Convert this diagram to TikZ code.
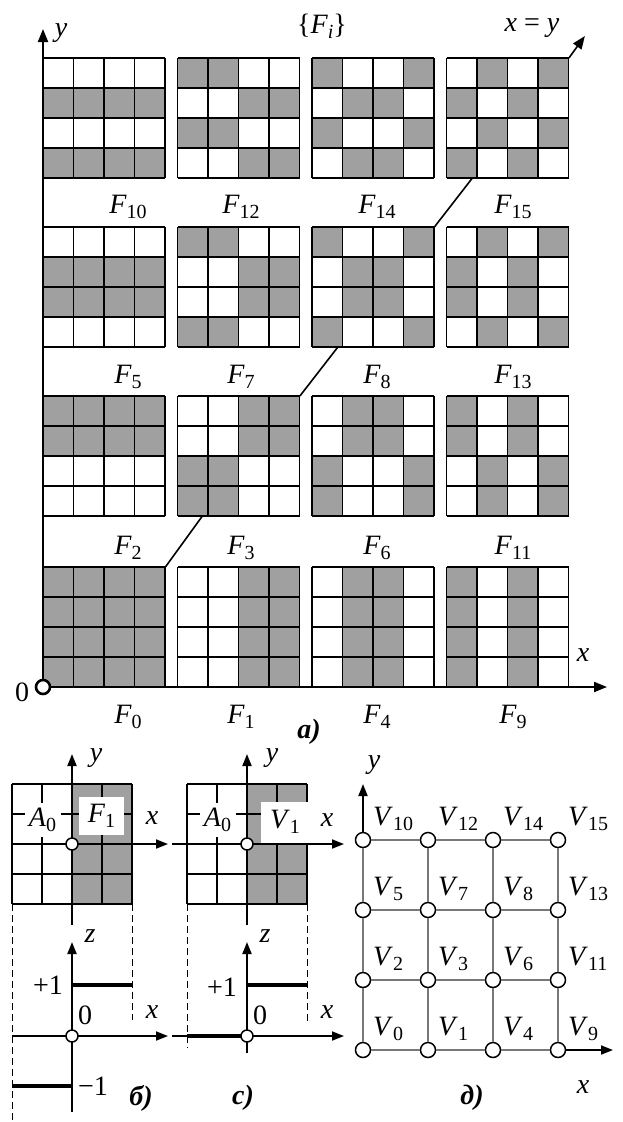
\documentclass[tikz,border=0pt]{standalone}
\usepackage{fontspec}
\setmainfont{Liberation Serif}
\usetikzlibrary{arrows.meta,calc}
\definecolor{cg}{RGB}{160,160,160}
\definecolor{lg}{RGB}{120,120,120}
\newcommand\Sb[2]{\textit{#1}\raisebox{-5.5pt}{\fontsize{20}{20}\selectfont #2}}
\newcommand\Pat[4]{%
  \node[inner sep=0pt, minimum width=122pt, minimum height=120pt, anchor=north west] (#1) at (#2,#3) {};
  \foreach \b [count=\k from 0] in {#4} {
    \pgfmathtruncatemacro\cc{mod(\k,4)}
    \pgfmathtruncatemacro\rr{div(\k,4)}
    \ifnum\b=1 \fill[cg] ($(#1.north west)+(\cc*30.5,\rr*30)$) rectangle ++(30.5,30);\fi
  }
  \foreach \i in {0,...,4} {
    \draw[gl] ($(#1.north west)+(\i*30.5,0)$) -- ++(0,120);
    \draw[gl] ($(#1.north west)+(0,\i*30)$) -- ++(122,0);
  }
}
\tikzset{
  lbl/.style={font=\fontsize{28}{32}\selectfont, inner sep=0pt},
  ttl/.style={font=\fontsize{28}{32}\selectfont\bfseries\itshape, inner sep=0pt},
  ax/.style={line width=2pt, -{Triangle[length=13pt,width=10pt]}},
  axs/.style={line width=1.8pt, -{Triangle[length=12pt,width=9pt]}},
  gl/.style={line width=1.6pt},
  sgl/.style={line width=1.5pt},
  thk/.style={line width=3.5pt},
  dsh/.style={line width=0.8pt, dash pattern=on 7pt off 4pt},
  ocirc/.style={circle, draw, fill=white, line width=1.5pt, minimum size=12pt, inner sep=0pt},
  vnode/.style={circle, draw, fill=white, line width=1.5pt, minimum size=15pt, inner sep=0pt},
  gedge/.style={draw=lg, line width=1.3pt},
  wbox/.style={fill=white, inner sep=0pt, font=\fontsize{28}{32}\selectfont},
}
\begin{document}
\begin{tikzpicture}[x=1pt,y=-1pt]
\useasboundingbox (0,0) rectangle (622,1122);
% ---------- a) patterns ----------
% row 0 (top)
\Pat{P10}{43}{58}{0,0,0,0, 1,1,1,1, 0,0,0,0, 1,1,1,1}
\Pat{P12}{177.5}{58}{1,1,0,0, 0,0,1,1, 1,1,0,0, 0,0,1,1}
\Pat{P14}{312}{58}{1,0,0,1, 0,1,1,0, 1,0,0,1, 0,1,1,0}
\Pat{P15}{446.5}{58}{0,1,0,1, 1,0,1,0, 0,1,0,1, 1,0,1,0}
% row 1
\Pat{P5}{43}{227}{0,0,0,0, 1,1,1,1, 1,1,1,1, 0,0,0,0}
\Pat{P7}{177.5}{227}{1,1,0,0, 0,0,1,1, 0,0,1,1, 1,1,0,0}
\Pat{P8}{312}{227}{1,0,0,1, 0,1,1,0, 0,1,1,0, 1,0,0,1}
\Pat{P13}{446.5}{227}{0,1,0,1, 1,0,1,0, 1,0,1,0, 0,1,0,1}
% row 2
\Pat{P2}{43}{396}{1,1,1,1, 1,1,1,1, 0,0,0,0, 0,0,0,0}
\Pat{P3}{177.5}{396}{0,0,1,1, 0,0,1,1, 1,1,0,0, 1,1,0,0}
\Pat{P6}{312}{396}{0,1,1,0, 0,1,1,0, 1,0,0,1, 1,0,0,1}
\Pat{P11}{446.5}{396}{1,0,1,0, 1,0,1,0, 0,1,0,1, 0,1,0,1}
% row 3
\Pat{P0}{43}{567}{1,1,1,1, 1,1,1,1, 1,1,1,1, 1,1,1,1}
\Pat{P1}{177.5}{567}{0,0,1,1, 0,0,1,1, 0,0,1,1, 0,0,1,1}
\Pat{P4}{312}{567}{0,1,1,0, 0,1,1,0, 0,1,1,0, 0,1,1,0}
\Pat{P9}{446.5}{567}{1,0,1,0, 1,0,1,0, 1,0,1,0, 1,0,1,0}
% diagonal x=y
\coordinate (d1) at ($(P0.north east)+(37,-51)$);
\coordinate (d2) at ($(P3.north east)+(38,-49)$);
\coordinate (d3) at ($(P8.north east)+(38,-49)$);
\coordinate (d4) at ($(P15.north east)+(16,-22)$);
\draw[gl] (P0.north east) -- (d1);
\draw[gl] (P3.north east) -- (d2);
\draw[gl] (P8.north east) -- (d3);
\draw[gl, -{Triangle[length=13pt,width=10pt]}] (P15.north east) -- (d4);
% axes
\coordinate (O) at (43,687);
\coordinate (Ytip) at (43,29);
\coordinate (Xtip) at (607,687);
\draw[ax] (O) -- (Ytip);
\draw[ax] (O) -- (Xtip);
\node[ocirc, line width=2.6pt, minimum size=14pt] (o) at (O) {};
\node[lbl] (ly) at (61,33) {\textit{y}};
\node[lbl] (lx) at (583,655) {\textit{x}};
\node[lbl] (l0) at (22,692) {0};
\node[lbl, anchor=base] (lFi) at (322,33) {\{\Sb{F}{\textit{i}}\}};
\node[lbl, anchor=base] (lxy) at (532,31) {\textit{x} = \textit{y}};
% F labels
\node[lbl, anchor=base] (lF10) at (128,213) {\Sb{F}{10}};
\node[lbl, anchor=base] (lF12) at (241,213) {\Sb{F}{12}};
\node[lbl, anchor=base] (lF14) at (377,213) {\Sb{F}{14}};
\node[lbl, anchor=base] (lF15) at (513,213) {\Sb{F}{15}};
\node[lbl, anchor=base] (lF5) at (128,383) {\Sb{F}{5}};
\node[lbl, anchor=base] (lF7) at (241,383) {\Sb{F}{7}};
\node[lbl, anchor=base] (lF8) at (377,383) {\Sb{F}{8}};
\node[lbl, anchor=base] (lF13) at (513,383) {\Sb{F}{13}};
\node[lbl, anchor=base] (lF2) at (128,554) {\Sb{F}{2}};
\node[lbl, anchor=base] (lF3) at (241,554) {\Sb{F}{3}};
\node[lbl, anchor=base] (lF6) at (377,554) {\Sb{F}{6}};
\node[lbl, anchor=base] (lF11) at (513,554) {\Sb{F}{11}};
\node[lbl, anchor=base] (lF0) at (128,723) {\Sb{F}{0}};
\node[lbl, anchor=base] (lF1) at (241,723) {\Sb{F}{1}};
\node[lbl, anchor=base] (lF4) at (377,723) {\Sb{F}{4}};
\node[lbl, anchor=base] (lF9) at (513,723) {\Sb{F}{9}};
\node[ttl] (ta) at (309,732) {a)};
% ---------- b) ----------
\fill[cg] (72,784) rectangle (132,904);
\foreach \i in {0,...,4} {
  \draw[sgl] (12+\i*30,784) -- (12+\i*30,904);
  \draw[sgl] (12,784+\i*30) -- (132,784+\i*30);
}
\node[wbox, minimum width=36pt, minimum height=34pt] (bA) at (42.5,820) {\Sb{A}{0}};
\node[wbox, minimum width=45pt, minimum height=38pt] (bF) at (101.5,816) {\Sb{F}{1}};
\coordinate (bYb) at (72,925); \coordinate (bYt) at (72,754);
\coordinate (bXl) at (12,844); \coordinate (bXr) at (168,844);
\draw[axs] (bYb) -- (bYt);
\draw[axs] (bXl) -- (bXr);
\node[ocirc] (bo) at (72,844) {};
\node[lbl] (bly) at (96,758) {\textit{y}};
\node[lbl] (blx) at (152,818) {\textit{x}};
% lower b
\draw[dsh] (12,904) -- (12,1122);
\draw[dsh] (132,904) -- (132,1020);
\coordinate (bZb) at (72,1112); \coordinate (bZt) at (72,942);
\coordinate (bX2l) at (12,1036); \coordinate (bX2r) at (168,1036);
\draw[axs] (bZb) -- (bZt);
\draw[axs] (bX2l) -- (bX2r);
\draw[thk] (72,985) -- (132,985);
\draw[thk] (12,1086) -- (72,1086);
\node[ocirc] (bo2) at (72,1036) {};
\node[lbl] (blz) at (90,936) {\textit{z}};
\node[lbl] (blp) at (48,985) {+1};
\node[lbl] (bl0) at (85,1015) {0};
\node[lbl] (blx2) at (152,1012) {\textit{x}};
\node[lbl] (blm) at (93,1086) {−1};
\node[ttl] (tb) at (141,1098) {б)};
% ---------- c) ----------
\fill[cg] (247,784) rectangle (307,904);
\foreach \i in {0,...,4} {
  \draw[sgl] (187+\i*30,784) -- (187+\i*30,904);
  \draw[sgl] (187,784+\i*30) -- (307,784+\i*30);
}
\node[wbox, minimum width=36pt, minimum height=34pt] (cA) at (217.5,820) {\Sb{A}{0}};
\node[wbox, minimum width=48pt, minimum height=41pt] (cV) at (285,822) {\Sb{V}{1}};
\coordinate (cYb) at (247,925); \coordinate (cYt) at (247,754);
\coordinate (cXl) at (172,844); \coordinate (cXr) at (344,844);
\draw[axs] (cYb) -- (cYt);
\draw[axs] (cXl) -- (cXr);
\node[ocirc] (co) at (247,844) {};
\node[lbl] (cly) at (272,758) {\textit{y}};
\node[lbl] (clx) at (327,820) {\textit{x}};
% lower c
\draw[dsh] (187,904) -- (187,1048);
\draw[dsh] (307,904) -- (307,1022);
\coordinate (cZb) at (247,1053); \coordinate (cZt) at (247,942);
\coordinate (cX2l) at (172,1036); \coordinate (cX2r) at (344,1036);
\draw[axs] (cZb) -- (cZt);
\draw[axs] (cX2l) -- (cX2r);
\draw[thk] (247,985) -- (307,985);
\draw[thk] (187,1036) -- (247,1036);
\node[ocirc] (co2) at (247,1036) {};
\node[lbl] (clz) at (265,936) {\textit{z}};
\node[lbl] (clp) at (222,987) {+1};
\node[lbl] (cl0) at (260,1015) {0};
\node[lbl] (clx2) at (327,1012) {\textit{x}};
\node[ttl] (tc) at (243,1098) {c)};
% ---------- d) ----------
\foreach \c/\x in {0/363,1/428,2/493,3/558}
  \foreach \r/\y in {0/1050,1/980,2/910,3/840}
    \node[vnode] (v\r\c) at (\x,\y) {};
\foreach \r in {0,1,2,3} \draw[gedge] (v\r0) -- (v\r1) -- (v\r2) -- (v\r3);
\foreach \c in {0,1,2,3} \draw[gedge] (v0\c) -- (v1\c) -- (v2\c) -- (v3\c);
\coordinate (dYt) at (363,784);
\coordinate (dXt) at (613,1050);
\draw[axs] (v30) -- (dYt);
\draw[axs] (v03) -- (dXt);
\node[lbl] (dly) at (374,765) {\textit{y}};
\node[lbl] (dlx) at (583,1087) {\textit{x}};
\foreach \n/\c/\r in {10/0/3,12/1/3,14/2/3,15/3/3, 5/0/2,7/1/2,8/2/2,13/3/2, 2/0/1,3/1/1,6/2/1,11/3/1, 0/0/0,1/1/0,4/2/0,9/3/0}
  \node[lbl, anchor=base west] (lV\n) at ({373+65*\c}, {1035-70*\r}) {\Sb{V}{\n}};
\node[ttl] (td) at (472,1098) {д)};
\end{tikzpicture}
\end{document}
